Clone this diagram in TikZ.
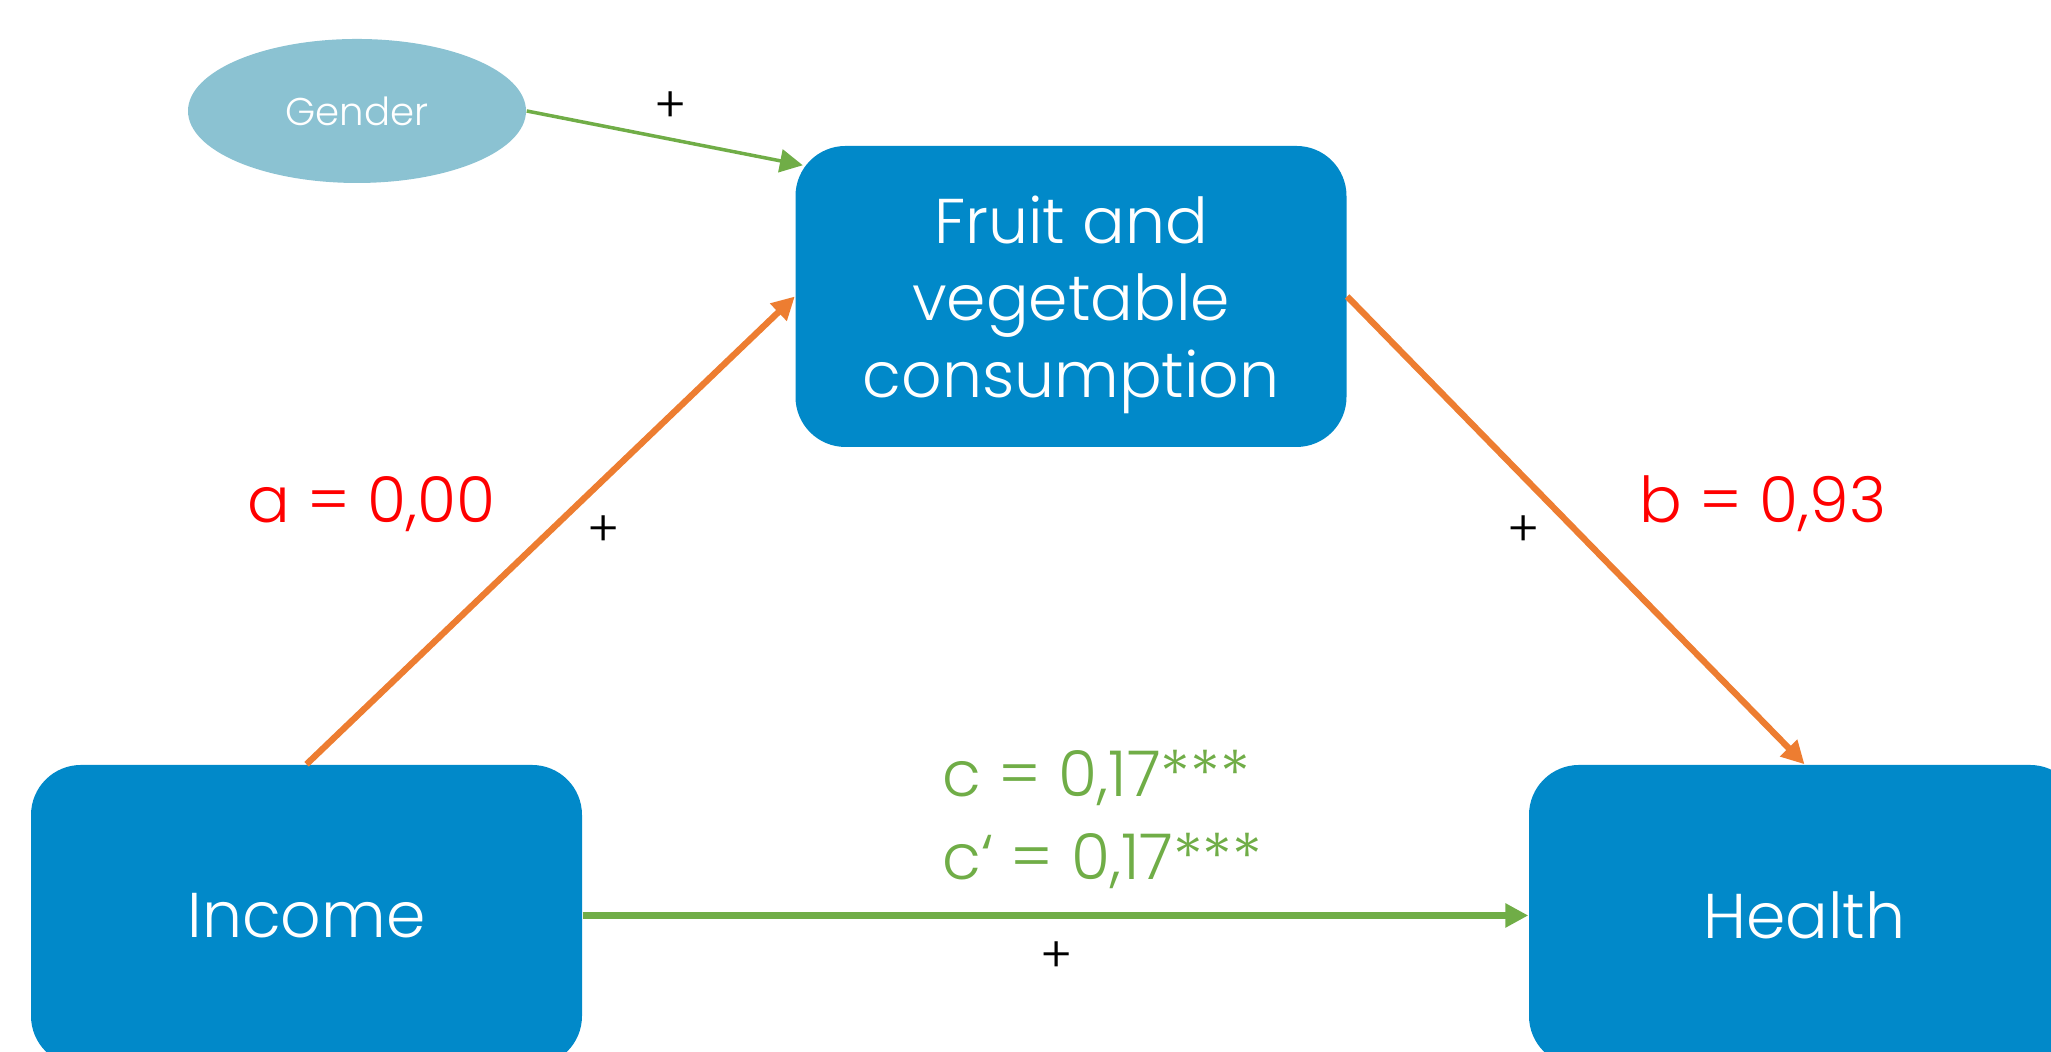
\documentclass[tikz,border=0pt]{standalone}
\usepackage{fontspec}
\setmainfont{Poppins}[UprightFont={* Light}]
\usetikzlibrary{arrows.meta,shapes.geometric}
\definecolor{boxblue}{RGB}{1,137,201}
\definecolor{genderblue}{RGB}{139,194,210}
\definecolor{pathorange}{RGB}{237,125,49}
\definecolor{pathgreen}{RGB}{112,173,71}
\begin{document}
\begin{tikzpicture}[>={Stealth[inset=0pt,length=6.5pt,width=6.5pt]},
  var/.style={fill=boxblue, rounded corners=0.5cm, minimum width=5.51cm, minimum height=3.01cm,
    text=white, align=center, text depth=0pt, font=\fontsize{18}{21.9}\selectfont},
  coef/.style={font=\fontsize{18}{22}\selectfont},
  sign/.style={font=\fontsize{14}{16}\selectfont}]
  \useasboundingbox (0,0) rectangle (20.51,10.52);
  \clip (0,0) rectangle (20.51,10.52);
  \node[var] (fruit) at (10.71,7.555) {Fruit and\\vegetable\\consumption};
  \node[var] (income) at (3.065,1.365) {Income};
  \node[var] (health) at (18.045,1.365) {Health};
  \node[ellipse, fill=genderblue, minimum width=3.38cm, minimum height=1.44cm, text=white,
    font=\fontsize{11}{13}\selectfont] (gender) at (3.57,9.41) {Gender};
  \draw[->, pathgreen, line width=1pt] (gender.east) -- ([shift={(0.08,-0.2)}]fruit.north west);
  \draw[->, pathorange, line width=1.8pt] (income.north) -- (fruit.west);
  \draw[->, pathorange, line width=1.8pt] (fruit.east) -- (health.north);
  \draw[->, pathgreen, line width=1.8pt] (income.east) -- (health.west);
  \node[coef, red] (a) at (3.71,5.48) {a = 0,00};
  \node[coef, red] (b) at (17.63,5.48) {b = 0,93};
  \node[coef, pathgreen, anchor=west] (c) at (9.30,2.74) {c = 0,17***};
  \node[coef, pathgreen, anchor=west] (cprime) at (9.30,1.91) {c‘ = 0,17***};
  \node[sign] (p1) at (6.71,9.45) {+};
  \node[sign] (p2) at (6.04,5.21) {+};
  \node[sign] (p3) at (15.24,5.21) {+};
  \node[sign] (p4) at (10.57,0.95) {+};
\end{tikzpicture}
\end{document}
